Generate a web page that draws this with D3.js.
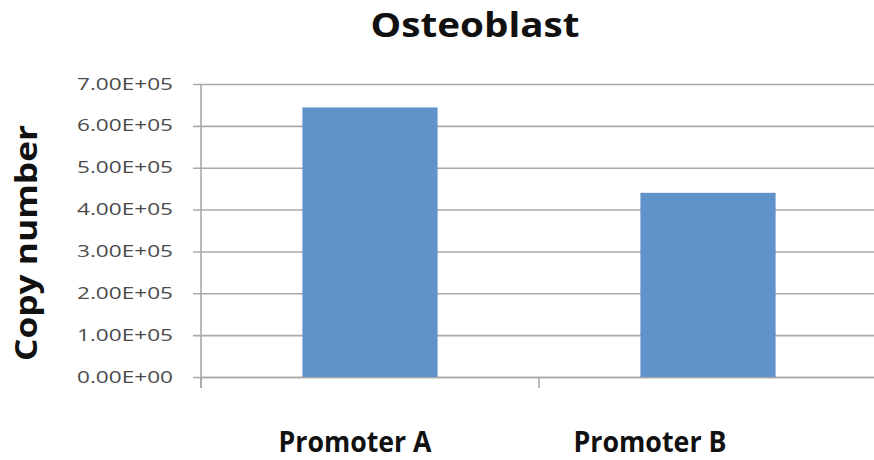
<!DOCTYPE html>
<html>
<head>
<meta charset="utf-8">
<script src="https://cdn.jsdelivr.net/npm/d3@7"></script>
<style>
  html, body { margin: 0; padding: 0; background: #fff; }
  svg { display: block; }
  text { font-family: "Open Sans", "Noto Sans", sans-serif; }
</style>
</head>
<body>
<svg id="chart" width="874" height="460"></svg>
<script>
// Copy number per promoter in osteoblasts
const categories = ["Promoter A", "Promoter B"];
const copyNumber = [644000, 440000];
const yTicks = [0, 100000, 200000, 300000, 400000, 500000, 600000, 700000];
const tickLabels = ["0.00E+00", "1.00E+05", "2.00E+05", "3.00E+05", "4.00E+05", "5.00E+05", "6.00E+05", "7.00E+05"];

const svg = d3.select("#chart");
const plot = { left: 201, right: 877, top: 84, bottom: 377 };

const x = d3.scaleBand().domain(categories).range([plot.left, plot.right]).padding(0);
const y = d3.scaleLinear().domain([0, 700000]).range([plot.bottom, plot.top]);

const gridColor = "#a9a9a9";

// Horizontal gridlines with outward tick marks
const yAxis = d3.axisLeft(y)
  .tickValues(yTicks)
  .tickSize(-(plot.right - plot.left))
  .tickFormat("");
const gy = svg.append("g").attr("transform", `translate(${plot.left},0)`).call(yAxis);
gy.select(".domain").remove();
gy.selectAll(".tick line")
  .attr("x1", -8)
  .attr("stroke", gridColor)
  .attr("stroke-width", 1.6);

// Tick labels
svg.append("g").selectAll("text")
  .data(yTicks)
  .join("text")
  .attr("x", 173)
  .attr("y", d => y(d))
  .attr("dy", "0.36em")
  .attr("text-anchor", "end")
  .attr("fill", "#4a4a4a")
  .attr("font-size", 15.5)
  .attr("textLength", 96)
  .attr("lengthAdjust", "spacingAndGlyphs")
  .text((d, i) => tickLabels[i]);

// Vertical axis line
svg.append("line")
  .attr("x1", plot.left).attr("x2", plot.left)
  .attr("y1", plot.top).attr("y2", plot.bottom + 11)
  .attr("stroke", gridColor).attr("stroke-width", 1.6);

// Category axis: baseline plus boundary ticks
const xAxis = d3.axisBottom(x).tickSize(0).tickFormat("");
const gx = svg.append("g").attr("transform", `translate(0,${plot.bottom})`).call(xAxis);
gx.select(".domain").attr("stroke", gridColor).attr("stroke-width", 1.6);
gx.selectAll(".tick").remove();
const boundaries = categories.map(c => x(c)).concat([x(categories[categories.length - 1]) + x.bandwidth()]);
svg.append("g").selectAll("line")
  .data(boundaries)
  .join("line")
  .attr("x1", d => d).attr("x2", d => d)
  .attr("y1", plot.bottom).attr("y2", plot.bottom + 11)
  .attr("stroke", gridColor).attr("stroke-width", 1.6);

// Bars
const barW = x.bandwidth() * 0.4;
svg.append("g").selectAll("rect")
  .data(categories)
  .join("rect")
  .attr("x", d => x(d) + (x.bandwidth() - barW) / 2)
  .attr("y", (d, i) => y(copyNumber[i]))
  .attr("width", barW)
  .attr("height", (d, i) => y(0) - y(copyNumber[i]))
  .attr("fill", "#5f93ca");

// Category labels
const labelShift = [-15, -58];
svg.append("g").selectAll("text")
  .data(categories)
  .join("text")
  .attr("x", (d, i) => x(d) + x.bandwidth() / 2 + labelShift[i])
  .attr("y", 452)
  .attr("text-anchor", "middle")
  .attr("font-size", 28)
  .attr("font-weight", 700)
  .attr("fill", "#111")
  .attr("textLength", 153)
  .attr("lengthAdjust", "spacingAndGlyphs")
  .text(d => d);

// Title
svg.append("text")
  .attr("x", 475)
  .attr("y", 37)
  .attr("text-anchor", "middle")
  .attr("font-size", 34)
  .attr("font-weight", 700)
  .attr("fill", "#111")
  .attr("textLength", 209)
  .attr("lengthAdjust", "spacingAndGlyphs")
  .text("Osteoblast");

// Y-axis title
svg.append("text")
  .attr("transform", "translate(37,243) rotate(-90)")
  .attr("text-anchor", "middle")
  .attr("font-size", 30)
  .attr("font-weight", 700)
  .attr("fill", "#111")
  .attr("textLength", 236)
  .attr("lengthAdjust", "spacingAndGlyphs")
  .text("Copy number");
</script>
</body>
</html>
